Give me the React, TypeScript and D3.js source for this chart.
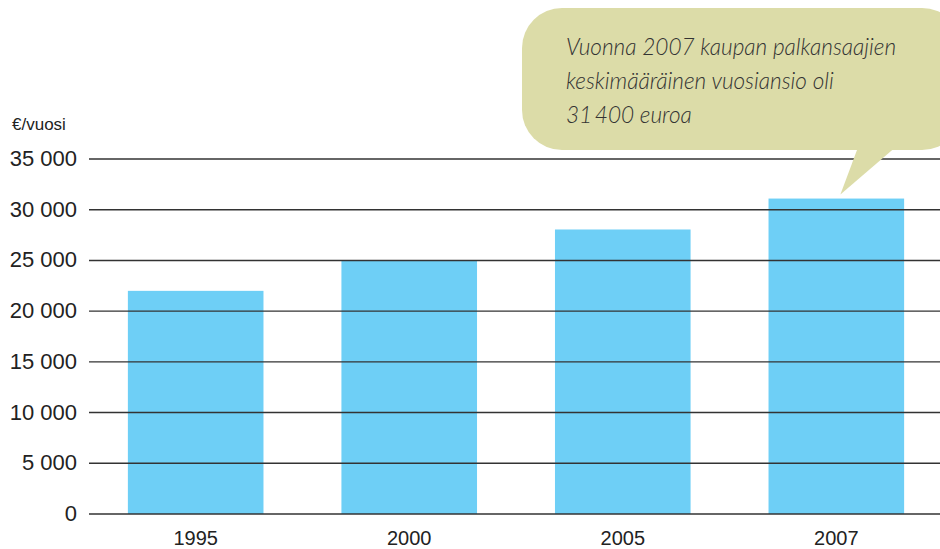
import React from 'react';
import * as d3 from 'd3';

const years = ['1995', '2000', '2005', '2007'];
const salaries = [22000, 25000, 28050, 31100];
const yTicks = [0, 5000, 10000, 15000, 20000, 25000, 30000, 35000];
const unitLabel = '€/vuosi';
const noteLines = [
  'Vuonna 2007 kaupan palkansaajien',
  'keskimääräinen vuosiansio oli',
  '31\u2009400 euroa',
];

const W = 940;
const H = 549;

const fmt = (v: number) => d3.format(',')(v).replace(/,/g, ' ');

export default function App() {
  const y = d3.scaleLinear().domain([0, 35000]).range([514, 159]);
  const x = d3
    .scaleBand<string>()
    .domain(years)
    .range([92, 940])
    .paddingInner(0.365)
    .paddingOuter(0.168);

  // callout points at the last bar
  const last = years[years.length - 1];
  const tipX = (x(last) ?? 0) + x.bandwidth() * 0.53;
  const tipY = y(salaries[salaries.length - 1]) - 4;

  return (
    <svg
      width={W}
      height={H}
      style={{ position: 'absolute', left: 0, top: 0, display: 'block' }}
      fontFamily="'Liberation Sans', Arial, sans-serif"
    >
      <rect width={W} height={H} fill="#fff" />

      {years.map((yr, i) => (
        <rect
          key={yr}
          x={x(yr)}
          y={y(salaries[i])}
          width={x.bandwidth()}
          height={y(0) - y(salaries[i])}
          fill="#6ecff6"
        />
      ))}

      {yTicks.map((t) => (
        <g key={t}>
          <line x1={89} x2={W} y1={y(t)} y2={y(t)} stroke="#333" strokeWidth={1.4} />
          <text
            x={77}
            y={y(t) + 7}
            textAnchor="end"
            fontSize={22}
            fill="#222"
          >
            {fmt(t)}
          </text>
        </g>
      ))}

      <text x={12} y={130} fontSize={17} fill="#222">
        {unitLabel}
      </text>

      {years.map((yr) => (
        <text
          key={yr}
          x={(x(yr) ?? 0) + x.bandwidth() / 2}
          y={545}
          textAnchor="middle"
          fontSize={20}
          fill="#222"
        >
          {yr}
        </text>
      ))}

      <g>
        <rect x={522} y={8} width={440} height={142} rx={40} ry={40} fill="#dcdca8" />
        <path
          d={`M${tipX + 17},149 L${tipX + 53},149 L${tipX},${tipY} Z`}
          fill="#dcdca8"
        />
        {noteLines.map((l, i) => (
          <text
            key={i}
            x={566}
            y={55 + i * 34}
            fontFamily="Lato, 'Open Sans', sans-serif"
            fontStyle="italic"
            fontWeight={300}
            fontSize={22.6}
            fill="#333"
          >
            {l}
          </text>
        ))}
      </g>
    </svg>
  );
}
